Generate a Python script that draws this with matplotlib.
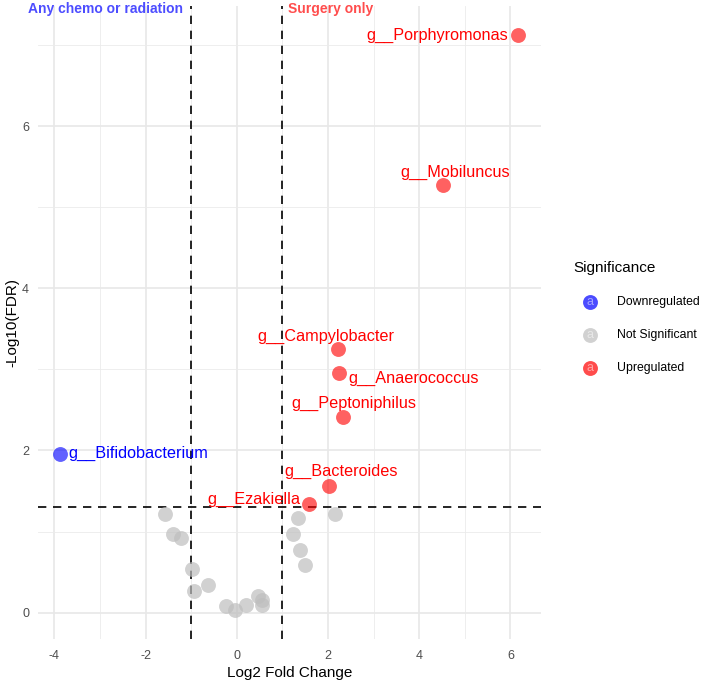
import numpy as np
import matplotlib
matplotlib.use('Agg')
import matplotlib.pyplot as plt
from matplotlib.ticker import MultipleLocator

plt.rcParams['font.family'] = ['Liberation Sans', 'DejaVu Sans']
plt.rcParams['axes.unicode_minus'] = False

# labelled genera
genus = ['g__Porphyromonas', 'g__Mobiluncus', 'g__Campylobacter', 'g__Anaerococcus',
         'g__Peptoniphilus', 'g__Bacteroides', 'g__Ezakiella', 'g__Bifidobacterium']
genus_fc = [6.17, 4.52, 2.22, 2.25, 2.32, 2.03, 1.59, -3.87]
genus_fdr = [7.12, 5.27, 3.25, 2.95, 2.41, 1.56, 1.34, 1.96]
genus_sig = ['Upregulated'] * 7 + ['Downregulated']

# not significant genera (unlabelled)
ns_fc = [-1.57, -1.39, -1.23, -0.99, -0.95, -0.63, -0.24, -0.04, 0.20, 0.47, 0.55, 0.55,
         1.35, 1.24, 1.39, 1.50, 2.15]
ns_fdr = [1.22, 0.97, 0.92, 0.54, 0.27, 0.34, 0.08, 0.03, 0.09, 0.21, 0.16, 0.09,
          1.17, 0.97, 0.77, 0.59, 1.22]

legend_levels = ['Downregulated', 'Not Significant', 'Upregulated']
point_col = {'Downregulated': 'blue', 'Not Significant': '#BEBEBE', 'Upregulated': 'red'}

fc_cut = 1
fdr_cut = -np.log10(0.05)

# label placement (text offset from point in pixels, alignment)
lab_off = [(-10, 0, 'right'), (12, 13, 'center'), (-12, 13, 'center'), (9, -5, 'left'),
           (11, 14, 'center'), (12, 15, 'center'), (-9, 5, 'right'), (8, 0, 'left')]

fig = plt.figure(figsize=(7.01, 6.83), dpi=100)
ax = fig.add_axes([0.0535, 0.0644, 0.7183, 0.9262])

ax.scatter(ns_fc, ns_fdr, s=115, color=point_col['Not Significant'], alpha=0.7,
           linewidths=0, zorder=3)
for fc, fdr, sig in zip(genus_fc, genus_fdr, genus_sig):
    ax.scatter(fc, fdr, s=115, color=point_col[sig], alpha=0.62, linewidths=0, zorder=3)

all_fc = ns_fc + genus_fc
all_fdr = ns_fdr + genus_fdr
xr = max(all_fc) - min(all_fc)
yr = max(all_fdr) - min(all_fdr)
ax.set_xlim(min(all_fc) - 0.05 * xr, max(all_fc) + 0.05 * xr)
ax.set_ylim(min(all_fdr) - 0.05 * yr, max(all_fdr) + 0.05 * yr)

ax.axvline(-fc_cut, color='black', lw=1.2, ls=(0, (5, 4)), zorder=2)
ax.axvline(fc_cut, color='black', lw=1.2, ls=(0, (5, 4)), zorder=2)
ax.axhline(fdr_cut, color='black', lw=1.2, ls=(0, (5, 4)), zorder=2)

for g, fc, fdr, sig, (dx, dy, ha) in zip(genus, genus_fc, genus_fdr, genus_sig, lab_off):
    ax.annotate(g, (fc, fdr), xytext=(dx * 0.72, dy * 0.72), textcoords='offset points',
                ha=ha, va='center', fontsize=11.7, color=point_col[sig], zorder=4)

ax.annotate('Any chemo or radiation', (-fc_cut, 1), xycoords=('data', 'axes fraction'),
            xytext=(-8 * 0.72, -2.2), textcoords='offset points', ha='right', va='center',
            fontsize=10, fontweight='bold', color='#4D4DFF', annotation_clip=False)
ax.annotate('Surgery only', (fc_cut, 1), xycoords=('data', 'axes fraction'),
            xytext=(6 * 0.72, -2.2), textcoords='offset points', ha='left', va='center',
            fontsize=10, fontweight='bold', color='#FF4D4D', annotation_clip=False)

ax.xaxis.set_major_locator(MultipleLocator(2))
ax.xaxis.set_minor_locator(MultipleLocator(1))
ax.yaxis.set_major_locator(MultipleLocator(2))
ax.yaxis.set_minor_locator(MultipleLocator(1))
ax.grid(True, which='major', color='#E8E8E8', lw=1.2, zorder=0)
ax.grid(True, which='minor', color='#EBEBEB', lw=0.6, zorder=0)
ax.set_axisbelow(True)
for sp in ax.spines.values():
    sp.set_visible(False)
ax.tick_params(which='both', length=0, labelsize=9, labelcolor='#4D4D4D')
ax.tick_params(axis='x', pad=8)
ax.tick_params(axis='y', pad=6)
ax.set_xlabel('Log2 Fold Change', fontsize=11, labelpad=3)
ax.set_ylabel('-Log10(FDR)', fontsize=11, labelpad=2)

# legend
lax = fig.add_axes([0, 0, 1, 1])
lax.set_xlim(0, 701)
lax.set_ylim(683, 0)
lax.axis('off')
lax.text(573, 268, 'Significance', fontsize=11, ha='left', va='center')
for i, lev in enumerate(legend_levels):
    ky = 301.7 + i * 33
    lax.scatter(590, ky, s=115, color=point_col[lev], alpha=0.7, linewidths=0)
    lax.text(590, ky + 0.5, 'a', fontsize=9, ha='center', va='center', color='white', alpha=0.5)
    lax.text(617, ky, lev, fontsize=8.8, ha='left', va='center')

plt.savefig('out.png', dpi=100)
